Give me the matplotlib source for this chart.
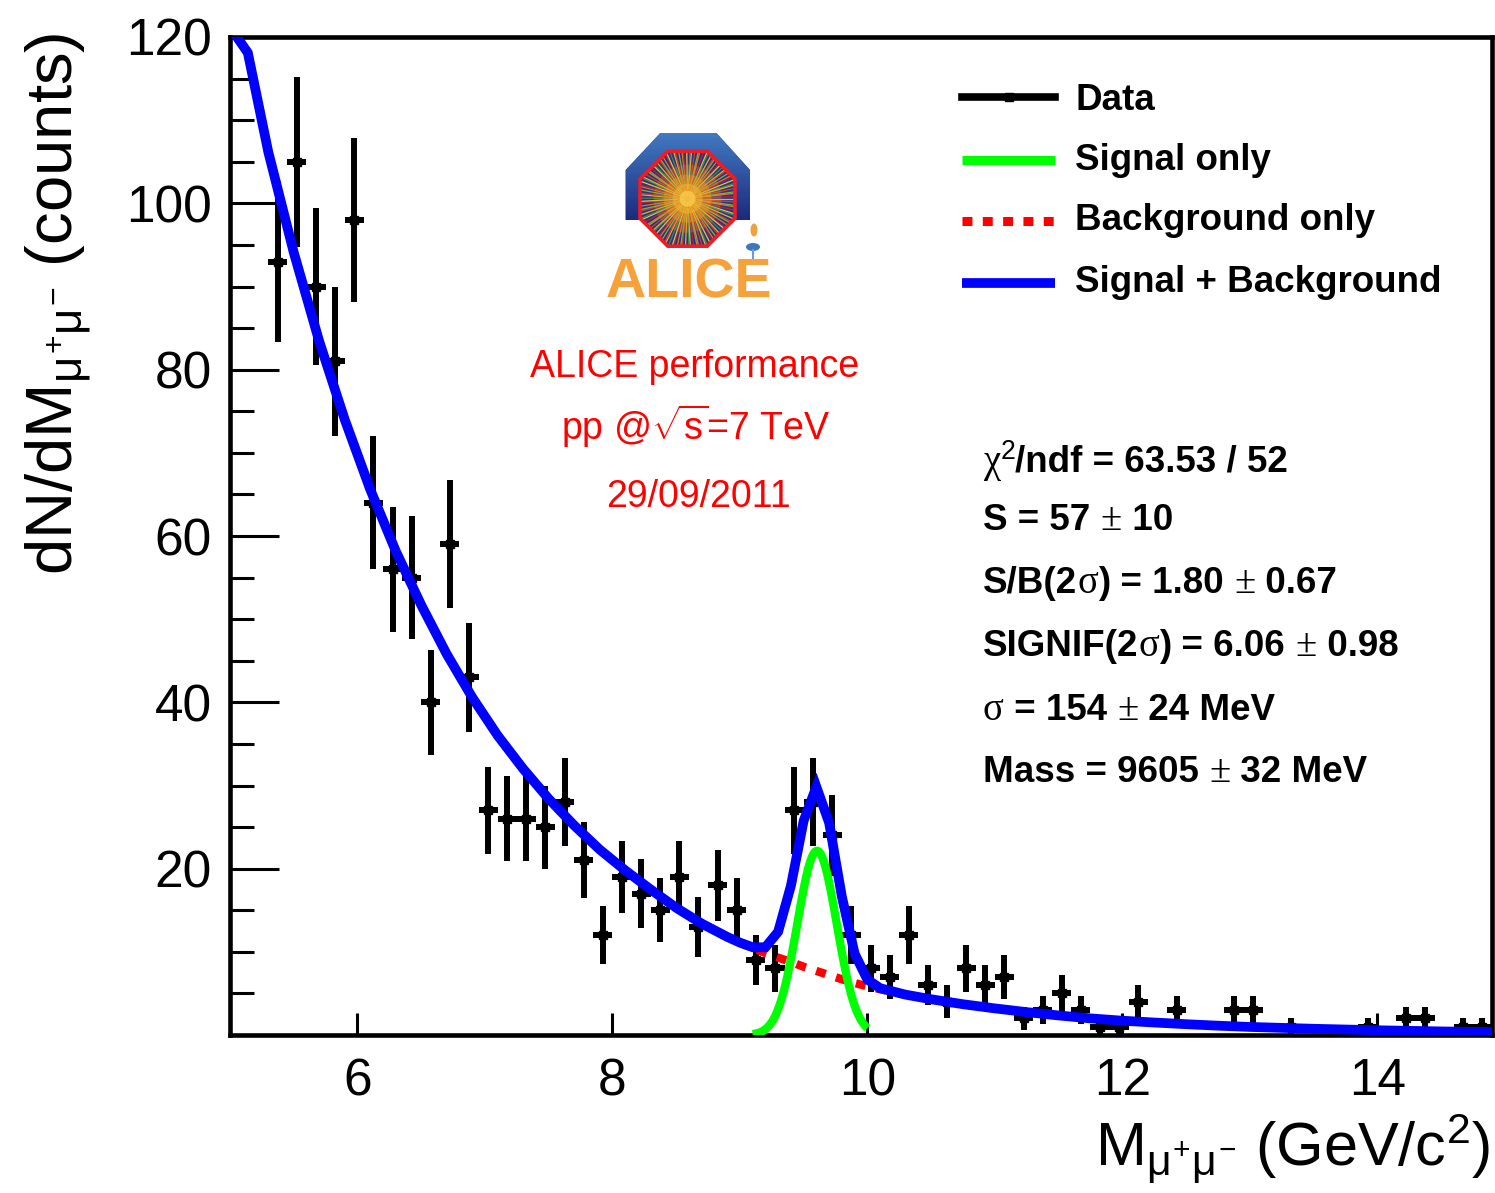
import numpy as np
import matplotlib
matplotlib.use("Agg")
import matplotlib.pyplot as plt
from matplotlib.patches import Polygon, Ellipse, Circle
from matplotlib.lines import Line2D
from matplotlib.colors import LinearSegmentedColormap
from matplotlib.ticker import MultipleLocator, FixedLocator

plt.rcParams["font.family"] = ["Liberation Sans", "DejaVu Sans"]
plt.rcParams["mathtext.fontset"] = "custom"
plt.rcParams["mathtext.rm"] = "Liberation Sans"
plt.rcParams["mathtext.it"] = "Liberation Sans"
plt.rcParams["mathtext.bf"] = "Liberation Sans:bold"

# ---------------- data: dimuon invariant mass histogram ----------------
bin_low = 5.3          # GeV/c^2, lower edge of first bin
bin_width = 0.15       # GeV/c^2
counts = [93, 105, 90, 81, 98, 64, 56, 55, 40, 59,
          43, 27, 26, 26, 25, 28, 21, 12, 19, 17,
          15, 19, 13, 18, 15, 9, 8, 27, 28, 24,
          12, 8, 7, 12, 6, 4, 8, 6, 7, 2,
          3, 5, 3, 1, 1, 4, 0, 3, 0, 0,
          3, 3, 0, 1, 0, 0, 0, 1, 0, 2,
          2, 0, 1, 1]

# continuum (background) fit, sampled along the mass axis
bg_mass = [5.0, 5.14, 5.3, 5.5, 5.7, 5.9, 6.1, 6.3, 6.5, 6.7, 6.9,
           7.1, 7.3, 7.5, 7.7, 7.9, 8.1, 8.3, 8.5, 8.7, 8.9,
           9.0, 9.1, 9.2, 9.3, 9.4, 9.5, 9.6, 9.7, 9.8, 9.9, 10.0, 10.1,
           10.3, 10.5, 10.75, 11.0, 11.25, 11.5, 11.75, 12.0, 12.25,
           12.5, 12.75, 13.0, 13.5, 14.0, 14.5, 14.9]
bg_counts = [121.2, 118.1, 106.2, 94.1, 83.4, 74.0, 65.6, 58.2, 51.7, 45.8, 40.6,
             36.0, 32.0, 28.4, 25.2, 22.3, 19.8, 17.5, 15.3, 13.4, 11.8,
             11.1, 10.45, 9.85, 9.3, 8.8, 8.2, 7.7, 7.2, 6.7, 6.25, 5.85, 5.5,
             4.85, 4.3, 3.7, 3.2, 2.75, 2.35, 2.0, 1.72, 1.5,
             1.3, 1.12, 0.97, 0.75, 0.57, 0.43, 0.34]

# Upsilon signal fit results
chi2, ndf = 63.53, 52
signal_yield, signal_yield_err = 57, 10
s_over_b, s_over_b_err = 1.80, 0.67
signif, signif_err = 6.06, 0.98
sigma_mev, sigma_mev_err = 154, 24
mass_mev, mass_mev_err = 9605, 32
signal_range = (9.1, 10.0)

legend_labels = ["Data", "Signal only", "Background only", "Signal + Background"]
info_lines = ["ALICE performance", r"pp @$\sqrt{s}$=7 TeV", "29/09/2011"]


def signal(m):
    mu = mass_mev / 1000.0
    sig = sigma_mev / 1000.0
    amp = signal_yield * bin_width / (np.sqrt(2 * np.pi) * sig)
    return amp * np.exp(-0.5 * ((np.asarray(m) - mu) / sig) ** 2)


# ---------------- figure ----------------
W, H = 1495, 1193
fig = plt.figure(figsize=(W / 100, H / 100), dpi=100)
ax = fig.add_axes([230 / W, 1 - 1035 / H, (1492 - 230) / W, (1035 - 37) / H])

cnt = np.asarray(counts, dtype=float)
centers = bin_low + bin_width * (np.arange(len(cnt)) + 0.5)
nz = cnt > 0
ax.errorbar(centers[nz], cnt[nz], xerr=bin_width / 2, yerr=np.sqrt(cnt[nz]),
            fmt="s", ms=5.5, color="black", ecolor="black", elinewidth=4.3,
            capsize=0, zorder=3)

bx = np.asarray(bg_mass)
by = np.asarray(bg_counts)
ax.plot(bx, by, color="red", lw=6, dashes=(1.2, 1.3), dash_capstyle="butt", zorder=4)
sx = np.linspace(signal_range[0], signal_range[1], 91)
ax.plot(sx, signal(sx), color=(0, 1, 0), lw=6, solid_capstyle="butt", zorder=5)
ax.plot(bx, by + signal(bx), color="blue", lw=7,
        solid_joinstyle="miter", zorder=6)

ax.set_xlim(5.0, 14.9)
ax.set_ylim(0, 120)
ax.xaxis.set_major_locator(FixedLocator([6, 8, 10, 12, 14]))
ax.yaxis.set_major_locator(FixedLocator([20, 40, 60, 80, 100, 120]))
ax.yaxis.set_minor_locator(MultipleLocator(5))
ax.tick_params(axis="y", which="major", direction="in", length=35, width=2.2,
               labelsize=37, pad=13, right=False)
ax.tick_params(axis="y", which="minor", direction="in", length=17, width=2.2, right=False)
ax.tick_params(axis="x", which="major", direction="in", length=16, width=2.2,
               labelsize=37, pad=16, top=False)
ax.tick_params(axis="x", which="minor", bottom=False, top=False)
for sp in ax.spines.values():
    sp.set_linewidth(3.3)

# ---------------- overlay in pixel coordinates ----------------
ov = fig.add_axes([0, 0, 1, 1], facecolor="none")
ov.set_xlim(0, W)
ov.set_ylim(H, 0)
ov.axis("off")

# axis titles
ov.text(72, 33, r"dN/dM$_{\mu^{+}\mu^{-}}$ (counts)", rotation=90,
        rotation_mode="anchor", ha="right", va="baseline", fontsize=47)
ov.text(1490, 1165, r"M$_{\mu^{+}\mu^{-}}$ (GeV/c$^{2}$)", ha="right",
        va="baseline", fontsize=44)

# legend
leg_y = [97, 160, 221, 283]
ov.add_line(Line2D([962, 1055], [leg_y[0]] * 2, color="black", lw=5.5))
ov.plot([1008.5], [leg_y[0]], marker="s", ms=6, color="black")
ov.add_line(Line2D([962, 1055], [leg_y[1]] * 2, color=(0, 1, 0), lw=6.5,
                   solid_capstyle="butt"))
ov.add_line(Line2D([962, 1055], [leg_y[2]] * 2, color="red", lw=6.5,
                   dashes=(1.1, 1.15), dash_capstyle="butt"))
ov.add_line(Line2D([962, 1055], [leg_y[3]] * 2, color="blue", lw=7,
                   solid_capstyle="butt"))
for lab, y in zip(legend_labels, [110, 170, 230, 292]):
    ov.text(1075, y, lab, fontsize=26.5, fontweight="bold", ha="left", va="baseline")

# ALICE performance label
for txt, y, xc in zip(info_lines, [377, 440, 507], [695, 696, 699]):
    ov.text(xc, y, txt, color="red", fontsize=27, ha="center", va="baseline")

# fit statistics, bold with thin symbols
renderer = fig.canvas.get_renderer()
STAT_SIZE = 26.5


def advance(txt, **kw):
    t1 = ov.text(0, 0, txt + "|", **kw)
    t2 = ov.text(0, 0, "|", **kw)
    w = t1.get_window_extent(renderer).width - t2.get_window_extent(renderer).width
    t1.remove()
    t2.remove()
    return w


def stat_line(x, y, parts):
    for txt, style in parts:
        if style == "bold":
            kw = dict(fontsize=STAT_SIZE, fontweight="bold")
            dy = 0
        elif style == "sym":
            kw = dict(fontsize=STAT_SIZE * 1.05, family=["Liberation Serif", "DejaVu Serif"])
            dy = 0
        else:  # superscript
            kw = dict(fontsize=STAT_SIZE * 0.72)
            dy = -13
        ov.text(x, y + dy, txt, ha="left", va="baseline", **kw)
        x += advance(txt, **kw)


stat_rows = [
    [("χ", "sym"), ("2", "sup"), (f"/ndf = {chi2:.2f} / {ndf}", "bold")],
    [(f"S = {signal_yield} ", "bold"), ("±", "sym"), (f" {signal_yield_err}", "bold")],
    [("S/B(2", "bold"), ("σ", "sym"), (f") = {s_over_b:.2f} ", "bold"), ("±", "sym"),
     (f" {s_over_b_err:.2f}", "bold")],
    [("SIGNIF(2", "bold"), ("σ", "sym"), (f") = {signif:.2f} ", "bold"), ("±", "sym"),
     (f" {signif_err:.2f}", "bold")],
    [("σ", "sym"), (f" = {sigma_mev} ", "bold"), ("±", "sym"), (f" {sigma_mev_err} MeV", "bold")],
    [(f"Mass = {mass_mev} ", "bold"), ("±", "sym"), (f" {mass_mev_err} MeV", "bold")],
]
for parts, y in zip(stat_rows, [472, 530, 593, 656, 720, 782]):
    stat_line(983, y, parts)

# ---------------- ALICE logo ----------------
arch = Polygon([(625.7, 220), (625.7, 170), (660, 133.3), (716.7, 133.3),
                (750, 170), (750, 220)], closed=True, fc="#233a8c", ec="none", zorder=2)
ov.add_patch(arch)
grad = np.linspace(0, 1, 64).reshape(-1, 1)
arch_cmap = LinearSegmentedColormap.from_list("arch", ["#4179c0", "#1d2a7e"])
im = ov.imshow(grad, extent=[625, 751, 220, 133], cmap=arch_cmap, aspect="auto", zorder=2.1)
im.set_clip_path(arch)

cx, cy, R = 687.5, 198.7, 51.4
ang = np.deg2rad(22.5 + 45 * np.arange(8))
oct_xy = np.column_stack([cx + R * np.cos(ang), cy - R * np.sin(ang)])
octo = Polygon(oct_xy, closed=True, fc="#34307e", ec="none", zorder=3)
ov.add_patch(octo)
ray_cols = ["#f2d21b", "#e8431f", "#8cc63f", "#f08c1a", "#c0262d", "#f7e04a", "#3d9a4a"]
for i in range(110):
    a = 2 * np.pi * i / 110 + 0.013 * (i % 3)
    r0 = 4 + 3 * (i % 4)
    ln = Line2D([cx + r0 * np.cos(a), cx + 1.15 * R * np.cos(a)],
                [cy + r0 * np.sin(a), cy + 1.15 * R * np.sin(a)],
                color=ray_cols[i % len(ray_cols)], lw=0.9, alpha=0.85, zorder=3.2)
    ov.add_line(ln)
    ln.set_clip_path(octo)
for rad, col, al in [(34, "#f0901e", 0.25), (24, "#f5a623", 0.35),
                     (15, "#f7b733", 0.5), (8, "#ffd24a", 0.7)]:
    c = Circle((cx, cy), rad, fc=col, ec="none", alpha=al, zorder=3.4)
    ov.add_patch(c)
    c.set_clip_path(octo)
ov.add_patch(Polygon(oct_xy, closed=True, fc="none", ec="#ee1c25", lw=2.6, zorder=3.6))

# small figure beside the logo
ov.add_patch(Ellipse((754, 230), 7, 13, fc="#f1a040", ec="none", zorder=4))
ov.add_patch(Ellipse((753, 247), 14, 8, fc="#3b78bd", ec="none", zorder=4))
ov.add_line(Line2D([753, 753], [250, 262], color="#6a9bd1", lw=1.5, zorder=4))

ov.text(688.5, 298, "ALICE", ha="center", va="baseline", fontsize=40,
        fontweight="bold", color="#f6a13a", zorder=5)

fig.savefig("out.png", dpi=100)
